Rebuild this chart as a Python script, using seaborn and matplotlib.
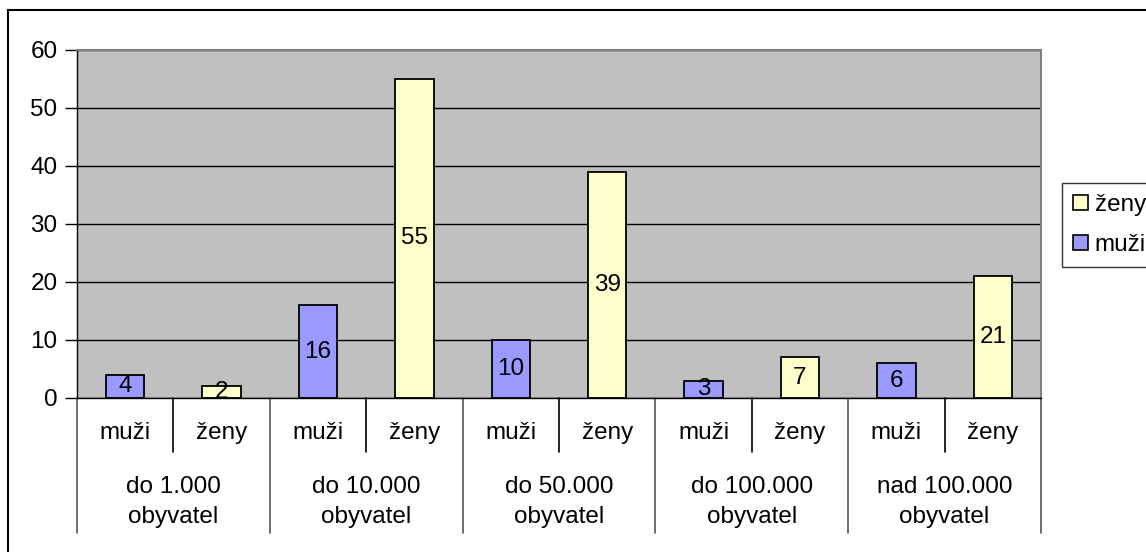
import matplotlib
matplotlib.use("Agg")
import matplotlib.pyplot as plt
import seaborn as sns
import pandas as pd
from matplotlib.patches import Rectangle

groups = ["do 1.000\nobyvatel", "do 10.000\nobyvatel", "do 50.000\nobyvatel",
          "do 100.000\nobyvatel", "nad 100.000\nobyvatel"]
muzi = [4, 16, 10, 3, 6]
zeny = [2, 55, 39, 7, 21]
sexes = ["muži", "ženy"]
yticks = [0, 10, 20, 30, 40, 50, 60]

rows = []
for g, m, z in zip(groups, muzi, zeny):
    rows.append({"pos": g + "|muži", "value": m, "sex": "muži"})
    rows.append({"pos": g + "|ženy", "value": z, "sex": "ženy"})
df = pd.DataFrame(rows)

sns.set_theme(style="white")
plt.rcParams["font.family"] = ["Liberation Sans", "DejaVu Sans"]
plt.rcParams["text.color"] = "black"
plt.rcParams["ytick.labelcolor"] = "black"
FS = 17.5

W, H = 1146, 552
fig = plt.figure(figsize=(W / 100, H / 100), dpi=100)
L, R, T, B = 77, 1041, 50, 398
ax = fig.add_axes([L / W, 1 - B / H, (R - L) / W, (B - T) / H])
ax.set_facecolor("#C0C0C0")

palette = {"muži": "#9999FF", "ženy": "#FFFFCC"}
sns.barplot(data=df, x="pos", y="value", hue="sex", hue_order=["ženy", "muži"],
            palette=palette, dodge=False, width=0.4, edgecolor="black",
            linewidth=1.3, saturation=1, ax=ax, legend=True)

for cont in ax.containers:
    labels = []
    for b in cont:
        h = b.get_height()
        labels.append("" if (h != h or h == 0) else f"{h:g}")
    ax.bar_label(cont, labels=labels, label_type="center", fontsize=FS, color="black")

ax.set_ylim(0, 60)
ax.set_xlim(-0.5, 9.5)
ax.set_yticks(yticks)
ax.yaxis.grid(True, color="black", linewidth=1)
ax.set_axisbelow(True)
ax.tick_params(axis="y", which="major", direction="out", length=9, width=1,
               color="black", labelsize=FS, labelcolor="black", pad=5, left=True)
ax.set_xticks([])
ax.set_xlabel("")
ax.set_ylabel("")
for s in ["top", "right"]:
    ax.spines[s].set_color("#808080")
    ax.spines[s].set_linewidth(1.5)
for s in ["left", "bottom"]:
    ax.spines[s].set_color("black")
    ax.spines[s].set_linewidth(1)

# multi-level category axis
ph = B - T
tr = ax.get_xaxis_transform()
small_end = -(452 - B) / ph
big_end = -(533 - B) / ph
for i in range(11):
    x = i - 0.5
    yend = big_end if i % 2 == 0 else small_end
    col = "#555555" if i % 2 == 0 else "black"
    ax.plot([x, x], [0, yend], transform=tr, color=col, lw=1.2, clip_on=False)
sub_y = -(433 - B) / ph
grp_y = -(502 - B) / ph
for i in range(10):
    ax.text(i, sub_y, sexes[i % 2], transform=tr, ha="center", va="center",
            fontsize=FS, color="black")
for j, g in enumerate(groups):
    ax.text(2 * j + 0.5, grp_y, g, transform=tr, ha="center", va="center",
            fontsize=FS, linespacing=1.45, color="black")

leg = ax.legend(loc="upper left", bbox_to_anchor=(1062 / W, 1 - 183 / H),
                bbox_transform=fig.transFigure, frameon=True, fancybox=False,
                fontsize=FS, handlelength=0.6, handleheight=0.6, handletextpad=0.3,
                labelspacing=0.75, borderpad=0.45, borderaxespad=0)
leg.get_frame().set_edgecolor("black")
leg.get_frame().set_linewidth(1)
for t in leg.get_texts():
    t.set_color("black")
for p in leg.get_patches():
    p.set_edgecolor("black")
    p.set_linewidth(1.2)

# outer chart border
fig.add_artist(Rectangle((8 / W, -0.1), 2, 1 - 10 / H + 0.1, transform=fig.transFigure,
                         fill=False, edgecolor="black", lw=1.5))

fig.savefig("out.png", dpi=100)
